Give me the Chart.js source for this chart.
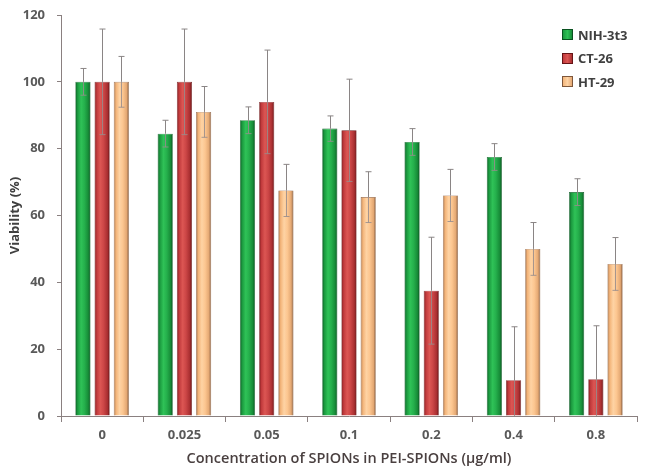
<!DOCTYPE html>
<html>
<head>
<meta charset="utf-8">
<script src="https://cdn.jsdelivr.net/npm/chart.js@4.4.1/dist/chart.umd.min.js"></script>
<style>
  html, body { margin: 0; padding: 0; background: #fff; }
  #wrap { position: relative; width: 653px; height: 475px; }
  #legend { position: absolute; left: 562px; top: 23px; font: bold 13px "Open Sans", sans-serif; color: #404040; }
  #legend div { height: 23.5px; line-height: 16px; display: flex; align-items: center; }
  #legend span.box { display: inline-block; width: 9px; height: 9px; margin-right: 5px; }
</style>
</head>
<body>
<div id="wrap">
  <canvas id="mygraph" width="653" height="475"></canvas>
  <div id="legend"></div>
</div>
<script>
const labels = ['0', '0.025', '0.05', '0.1', '0.2', '0.4', '0.8']
const nih = [100, 84.5, 88.5, 86, 82, 77.5, 67]
const nihErr = [4, 4, 4, 3.8, 4, 4, 4]
const ct = [100, 100, 94, 85.5, 37.5, 10.7, 11]
const ctErr = [15.8, 15.8, 15.5, 15.3, 16, 16, 16]
const ht = [100, 91, 67.5, 65.5, 66, 50, 45.5]
const htErr = [7.6, 7.6, 7.8, 7.6, 7.8, 7.9, 7.9]

const catPct = 0.7
const barPct = 0.79

// cylinder-like shading stops, left to right
const shades = {
  green: ['#0c5f25', '#1b9a3f', '#2fc257', '#25b04c', '#178c38', '#0a5220'],
  red: ['#7e1b1e', '#c13a3c', '#dc5653', '#cc4646', '#a92f31', '#661416'],
  peach: ['#a8754d', '#f3b479', '#fed3a4', '#fcc690', '#e4a873', '#7e573b']
}
const flat = { green: '#22a845', red: '#c8403f', peach: '#fbc48b' }

function barFill(key) {
  return (c) => {
    const chart = c.chart
    const xs = chart.scales.x
    if (!xs || c.dataIndex === undefined) return flat[key]
    const cat = xs.width / labels.length
    const slot = cat * catPct / 3
    const cx = xs.getPixelForValue(c.dataIndex) + (c.datasetIndex - 1) * slot
    const w = slot * barPct
    if (!Number.isFinite(cx) || !Number.isFinite(w) || w <= 0) return flat[key]
    const g = chart.ctx.createLinearGradient(cx - w / 2, 0, cx + w / 2, 0)
    const s = shades[key]
    const pos = [0, 0.15, 0.38, 0.6, 0.85, 1]
    s.forEach((col, i) => g.addColorStop(pos[i], col))
    return g
  }
}

const errBars = {
  id: 'errBars',
  afterDatasetsDraw(chart) {
    const ctx = chart.ctx
    const ys = chart.scales.y
    const errs = [nihErr, ctErr, htErr]
    ctx.save()
    ctx.lineWidth = 1
    chart.data.datasets.forEach((ds, di) => {
      chart.getDatasetMeta(di).data.forEach((bar, i) => {
        const v = ds.data[i]
        const e = errs[di][i]
        const x = Math.round(bar.x) + 0.5
        const top = ys.getPixelForValue(v + e)
        const mid = ys.getPixelForValue(v)
        const low = Math.max(v - e, 0)
        const bot = ys.getPixelForValue(low)
        ctx.strokeStyle = '#8a8585'
        ctx.beginPath()
        ctx.moveTo(x, top); ctx.lineTo(x, mid)
        ctx.moveTo(x - 3, top); ctx.lineTo(x + 3, top)
        ctx.stroke()
        ctx.strokeStyle = 'rgba(150,140,140,0.85)'
        ctx.beginPath()
        ctx.moveTo(x, mid); ctx.lineTo(x, bot)
        if (low > 0) { ctx.moveTo(x - 3, bot); ctx.lineTo(x + 3, bot) }
        ctx.stroke()
      })
    })
    ctx.restore()
  }
}

const tickFont = { family: 'Open Sans', size: 13, weight: 'bold' }

const chart = new Chart(document.getElementById('mygraph').getContext('2d'), {
  type: 'bar',
  data: {
    labels: labels,
    datasets: [
      { label: 'NIH-3t3', data: nih, backgroundColor: barFill('green'), borderColor: '#0d5a24', borderWidth: 0.6 },
      { label: 'CT-26', data: ct, backgroundColor: barFill('red'), borderColor: '#6e1a1c', borderWidth: 0.6 },
      { label: 'HT-29', data: ht, backgroundColor: barFill('peach'), borderColor: '#8a5e40', borderWidth: 0.6 }
    ]
  },
  options: {
    responsive: false,
    animation: false,
    categoryPercentage: catPct,
    barPercentage: barPct,
    layout: { padding: { top: 15, right: 16, left: 0, bottom: 0 } },
    plugins: { legend: { display: false }, tooltip: { enabled: false } },
    scales: {
      x: {
        grid: { display: true, drawOnChartArea: false, drawTicks: true, tickLength: 6, color: '#8a8080', offset: true },
        border: { display: true, color: '#8a8080', width: 1 },
        ticks: { color: '#595959', font: tickFont, padding: 5 },
        title: { display: true, text: 'Concentration of SPIONs in PEI-SPIONs (µg/ml)', color: '#4a4040',
          font: { family: 'Open Sans', size: 14.5, weight: '600' }, padding: { top: 2, bottom: 7 } },
        afterFit(s) { s.height = 59; s.paddingLeft = 0; s.paddingRight = 0 }
      },
      y: {
        min: 0, max: 120,
        grid: { display: true, drawOnChartArea: false, drawTicks: true, tickLength: 4, color: '#8a8080' },
        border: { display: true, color: '#8a8080', width: 1 },
        ticks: { stepSize: 20, color: '#595959', font: tickFont, padding: 12 },
        title: { display: true, text: 'Viability (%)', color: '#404040',
          font: { family: 'Open Sans', size: 13, weight: 'bold' }, padding: { top: 7, bottom: 4 } },
        afterFit(s) { s.width = 61; s.paddingTop = 0; s.paddingBottom = 0 }
      }
    }
  },
  plugins: [errBars]
})

// legend drawn as html, from the datasets
const leg = document.getElementById('legend')
const keys = ['green', 'red', 'peach']
chart.data.datasets.forEach((ds, i) => {
  const row = document.createElement('div')
  const s = shades[keys[i]]
  row.innerHTML = '<span class="box" style="background:linear-gradient(to right,' + s[1] + ',' + s[2] + ',' + s[4] + ');border:1px solid ' + s[5] + '"></span>' + ds.label
  leg.appendChild(row)
})
</script>
</body>
</html>
